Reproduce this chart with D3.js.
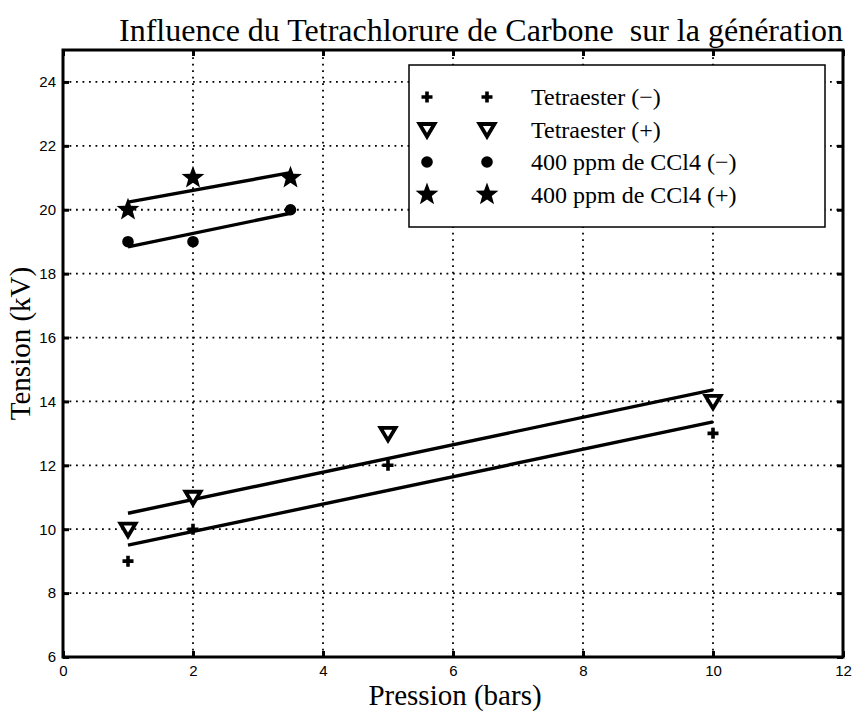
<!DOCTYPE html>
<html>
<head>
<meta charset="utf-8">
<script src="https://cdn.jsdelivr.net/npm/d3@7"></script>
<style>
  html, body { margin: 0; padding: 0; background: #fff; }
  svg { display: block; }
</style>
</head>
<body>
<svg id="chart" width="857" height="713"></svg>
<script>
// Pressure (bars) and breakdown voltage (kV) measurements
const tetraMinusX = [1, 2, 5, 10];
const tetraMinusY = [9, 10, 12, 13];
const tetraPlusX  = [1, 2, 5, 10];
const tetraPlusY  = [10, 11, 13, 14];
const cclMinusX   = [1, 2, 3.5];
const cclMinusY   = [19, 19, 20];
const cclPlusX    = [1, 2, 3.5];
const cclPlusY    = [20, 21, 21];

// Linear fit endpoints for each series: [x0, x1] and [y0, y1]
const fitTetraMinus = { x: [1, 10],  y: [9.5, 13.36] };
const fitTetraPlus  = { x: [1, 10],  y: [10.5, 14.36] };
const fitCclMinus   = { x: [1, 3.5], y: [18.84, 19.89] };
const fitCclPlus    = { x: [1, 3.5], y: [20.24, 21.16] };

const xTicks = [0, 2, 4, 6, 8, 10, 12];
const yTicks = [6, 8, 10, 12, 14, 16, 18, 20, 22, 24];

const legendLabels = ["Tetraester (\u2212)", "Tetraester (+)", "400 ppm de CCl4 (\u2212)", "400 ppm de CCl4 (+)"];
const legendSymbols = ["plus", "tri", "dot", "star"];

const titleText = "Influence du Tetrachlorure de Carbone\u00a0 sur la g\u00e9n\u00e9ration";
const xLabel = "Pression (bars)";
const yLabel = "Tension (kV)";

const margin = { left: 63, right: 843, top: 50, bottom: 657 };
const svg = d3.select("#chart");
const serif = "'Liberation Serif', 'Times New Roman', serif";
const sans = "'Liberation Sans', Arial, sans-serif";

const x = d3.scaleLinear().domain([0, 12]).range([margin.left, margin.right]);
const y = d3.scaleLinear().domain([6, 25]).range([margin.bottom, margin.top]);

// Dotted grid
const grid = svg.append("g").attr("stroke", "#000").attr("stroke-width", 1.8)
  .attr("stroke-dasharray", "1.8,4.7");
xTicks.filter(t => t > 0 && t < 12).forEach(t => {
  grid.append("line").attr("x1", x(t)).attr("x2", x(t))
    .attr("y1", margin.bottom).attr("y2", margin.top);
});
yTicks.filter(t => t > 6).forEach(t => {
  grid.append("line").attr("x1", margin.left).attr("x2", margin.right)
    .attr("y1", y(t)).attr("y2", y(t));
});

// Axes with inward ticks on all four sides
const tickLen = 6;
const axB = svg.append("g").attr("transform", `translate(0,${margin.bottom})`)
  .call(d3.axisBottom(x).tickValues(xTicks).tickSize(-tickLen).tickPadding(8).tickFormat(d3.format("d")));
const axT = svg.append("g").attr("transform", `translate(0,${margin.top})`)
  .call(d3.axisTop(x).tickValues(xTicks).tickSize(-tickLen).tickFormat(""));
const axL = svg.append("g").attr("transform", `translate(${margin.left},0)`)
  .call(d3.axisLeft(y).tickValues(yTicks).tickSize(-tickLen).tickPadding(11).tickFormat(d3.format("d")));
const axR = svg.append("g").attr("transform", `translate(${margin.right},0)`)
  .call(d3.axisRight(y).tickValues(yTicks).tickSize(-tickLen).tickFormat(""));
[axB, axT, axL, axR].forEach(a => {
  a.select(".domain").remove();
  a.selectAll(".tick line").attr("stroke", "#000").attr("stroke-width", 3);
  a.selectAll("text").attr("fill", "#000").style("font-family", sans).style("font-size", "15px");
});
axL.selectAll(".tick text").attr("dx", "4");

// Box
svg.append("rect").attr("x", margin.left).attr("y", margin.top)
  .attr("width", margin.right - margin.left).attr("height", margin.bottom - margin.top)
  .attr("fill", "none").attr("stroke", "#000").attr("stroke-width", 3);

// Fit lines
const line = d3.line().x(d => x(d[0])).y(d => y(d[1]));
[fitTetraMinus, fitTetraPlus, fitCclMinus, fitCclPlus].forEach(f => {
  svg.append("path").datum(d3.zip(f.x, f.y)).attr("d", line)
    .attr("fill", "none").attr("stroke", "#000").attr("stroke-width", 3.4);
});

// Marker drawing
function starPath(r) {
  const pts = [];
  for (let i = 0; i < 10; i++) {
    const rr = i % 2 === 0 ? r : r * 0.42;
    const a = -Math.PI / 2 + i * Math.PI / 5;
    pts.push([rr * Math.cos(a), rr * Math.sin(a)]);
  }
  return "M" + pts.map(p => p.join(",")).join("L") + "Z";
}
function drawMarker(g, kind, cx, cy) {
  const m = g.append("g").attr("transform", `translate(${cx},${cy})`);
  if (kind === "plus") {
    m.append("path").attr("d", "M-5.5,0H5.5M0,-5.5V5.5")
      .attr("stroke", "#000").attr("stroke-width", 3.6).attr("fill", "none");
  } else if (kind === "tri") {
    m.append("path").attr("d", "M-7.5,-5.5L7.5,-5.5L0,7L-7.5,-5.5Z")
      .attr("stroke", "#000").attr("stroke-width", 3.8).attr("stroke-linejoin", "miter").attr("fill", "#fff");
  } else if (kind === "dot") {
    m.append("circle").attr("r", 5.8).attr("fill", "#000");
  } else {
    m.append("path").attr("d", starPath(12)).attr("fill", "#000");
  }
}

const seriesList = [
  { xs: tetraMinusX, ys: tetraMinusY, kind: "plus" },
  { xs: tetraPlusX,  ys: tetraPlusY,  kind: "tri" },
  { xs: cclMinusX,   ys: cclMinusY,   kind: "dot" },
  { xs: cclPlusX,    ys: cclPlusY,    kind: "star" }
];
const marks = svg.append("g");
seriesList.forEach(s => {
  s.xs.forEach((xv, i) => drawMarker(marks, s.kind, x(xv), y(s.ys[i])));
});

// Legend
const lg = svg.append("g");
lg.append("rect").attr("x", 409).attr("y", 65).attr("width", 416).attr("height", 162)
  .attr("fill", "#fff").attr("stroke", "#000").attr("stroke-width", 1.5);
legendLabels.forEach((lab, i) => {
  const cy = 97 + i * 32.5;
  drawMarker(lg, legendSymbols[i], 427, cy);
  drawMarker(lg, legendSymbols[i], 487, cy);
  lg.append("text").attr("x", 531).attr("y", cy + 8)
    .style("font-family", serif).style("font-size", "24px").attr("fill", "#000").text(lab);
});

// Title and axis labels
svg.append("text").attr("x", 481).attr("y", 41).attr("text-anchor", "middle")
  .style("font-family", serif).style("font-size", "32px").attr("fill", "#000").text(titleText);
svg.append("text").attr("x", 455).attr("y", 705).attr("text-anchor", "middle")
  .style("font-family", serif).style("font-size", "29px").attr("fill", "#000").text(xLabel);
svg.append("text").attr("transform", `translate(30,${(margin.top + margin.bottom) / 2 - 10}) rotate(-90)`)
  .attr("text-anchor", "middle")
  .style("font-family", serif).style("font-size", "29px").attr("fill", "#000").text(yLabel);
</script>
</body>
</html>
